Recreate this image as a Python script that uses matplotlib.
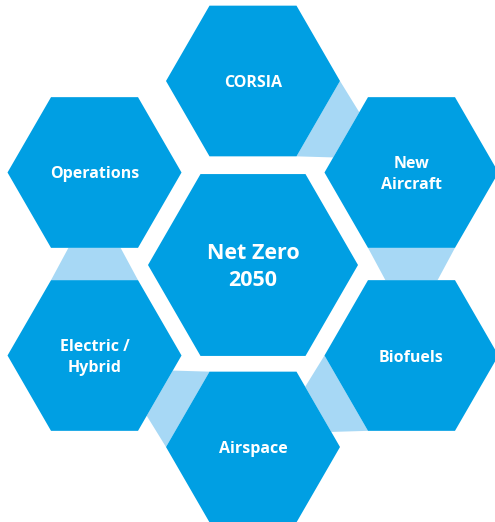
import matplotlib.pyplot as plt
import numpy as np
from matplotlib.patches import Polygon

# labels of the ring, clockwise from the top
labels = ["CORSIA", "New\nAircraft", "Biofuels", "Airspace", "Electric /\nHybrid", "Operations"]
centre_label = "Net Zero\n2050"
# connector after each ring item (to the next one clockwise)
has_link = [True, True, True, True, True, False]

BLUE = "#009fe3"
LIGHT = "#a7d8f5"

W, H = 495, 522
cx, cy = 253, 264
ring_r = 183
side_outer = 87
side_centre = 105


def hex_vertex(x, y, s, ang):
    a = np.radians(ang)
    return np.array([x + s * np.cos(a), y + s * np.sin(a)])


def hex_points(x, y, s):
    return [hex_vertex(x, y, s, a) for a in range(0, 360, 60)]


fig = plt.figure(figsize=(W / 100, H / 100), dpi=100)
ax = fig.add_axes([0, 0, 1, 1])
ax.set_xlim(0, W)
ax.set_ylim(H, 0)
ax.axis("off")

plt.rcParams["font.family"] = ["Open Sans", "DejaVu Sans"]

angles = [-90 + 60 * i for i in range(len(labels))]
centres = [(cx + ring_r * np.cos(np.radians(a)), cy + ring_r * np.sin(np.radians(a))) for a in angles]

# light connectors between neighbouring hexagons
for i, (phi, link) in enumerate(zip(angles, has_link)):
    if not link:
        continue
    ax_, ay_ = centres[i]
    bx_, by_ = centres[(i + 1) % len(centres)]
    th = phi + 120
    a1 = hex_vertex(ax_, ay_, side_outer, th - 30)
    a2 = hex_vertex(ax_, ay_, side_outer, th + 30)
    b1 = hex_vertex(bx_, by_, side_outer, th + 150)
    b2 = hex_vertex(bx_, by_, side_outer, th + 210)
    p1 = b1 + 0.2 * (b2 - b1)
    p2 = b1 + 0.8 * (b2 - b1)
    ax.add_patch(Polygon([a1, a2, p1, p2], closed=True, facecolor=LIGHT, edgecolor="none"))

for (x, y), lab in zip(centres, labels):
    ax.add_patch(Polygon(hex_points(x, y, side_outer), closed=True, facecolor=BLUE, edgecolor="none"))
    ax.text(x, y + 2, lab, ha="center", va="center", color="white", fontsize=11.5,
            fontweight="bold", linespacing=1.4)

ax.add_patch(Polygon(hex_points(cx, cy + 1, side_centre), closed=True, facecolor=BLUE, edgecolor="none"))
ax.text(cx, cy + 3, centre_label, ha="center", va="center", color="white", fontsize=15.5,
        fontweight="bold", linespacing=1.35)

fig.savefig("out.png", dpi=100)
